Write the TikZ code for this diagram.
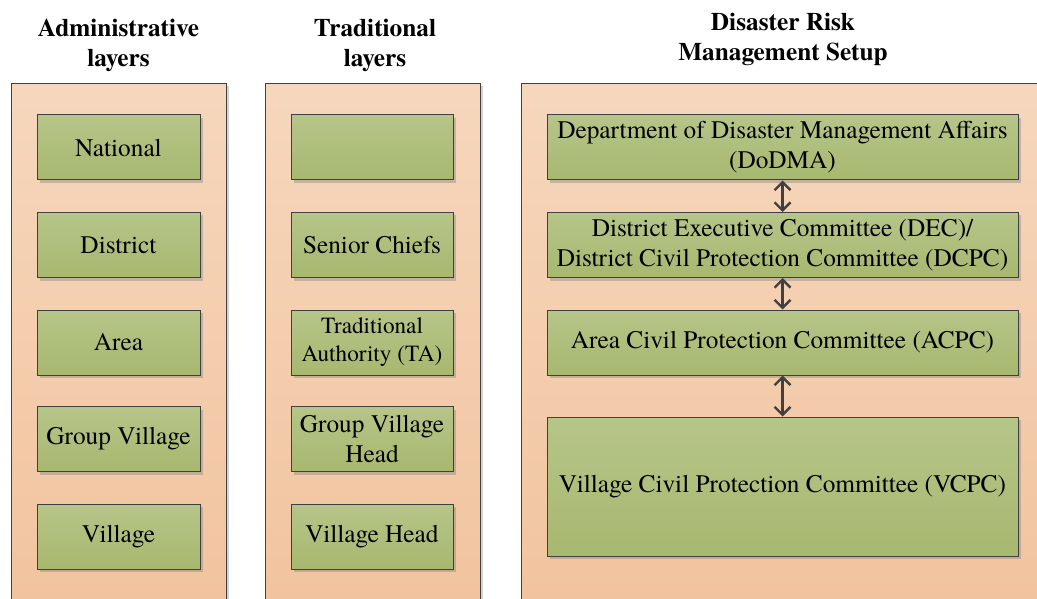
\documentclass[tikz,border=0pt]{standalone}
\usepackage{fontspec}
\setmainfont{TeX Gyre Termes}
\usetikzlibrary{shadows,arrows.meta}
\definecolor{panelTop}{HTML}{F6D7BD}
\definecolor{panelBot}{HTML}{F1C39D}
\definecolor{boxTop}{HTML}{B6C589}
\definecolor{boxBot}{HTML}{A7B86F}
\definecolor{edgecol}{HTML}{404040}
\begin{document}
\begin{tikzpicture}[x=1pt,y=-1pt,
  panel/.style={draw=edgecol, line width=0.9pt, top color=panelTop, bottom color=panelBot,
    anchor=north west, minimum height=540pt, inner sep=0pt,
    drop shadow={shadow xshift=3pt, shadow yshift=-3pt, fill=gray, opacity=0.35}},
  box/.style={draw=edgecol, line width=1pt, top color=boxTop, bottom color=boxBot,
    minimum height=65pt, inner sep=0pt, align=center,
    font=\fontsize{25.3}{30}\selectfont,
    drop shadow={shadow xshift=3pt, shadow yshift=-3pt, fill=gray, opacity=0.4}},
  smallbox/.style={box, font=\fontsize{23.2}{28}\selectfont},
  title/.style={align=center, font=\fontsize{25.3}{30}\selectfont\bfseries},
  arr/.style={draw=edgecol, line width=2.4pt,
    {Straight Barb[length=8pt,width=16pt]}-{Straight Barb[length=8pt,width=16pt]}}]
\useasboundingbox (0,0) rectangle (1037,599);
\clip (0,0) rectangle (1037,599);
% titles
\node[title] (t1) at (118.5,45) {Administrative\\layers};
\node[title] (t2) at (375,45) {Traditional\\layers};
\node[title] (t3) at (783,39) {Disaster Risk\\Management Setup};
% panels
\node[panel, minimum width=215pt] (p1) at (11,83) {};
\node[panel, minimum width=215pt] (p2) at (265,83) {};
\node[panel, minimum width=540pt] (p3) at (521,83) {};
% administrative
\node[box, minimum width=163pt] (a1) at (118.5,147.5) {National};
\node[box, minimum width=163pt] (a2) at (118.5,245) {District};
\node[box, minimum width=163pt] (a3) at (118.5,342.5) {Area};
\node[box, minimum width=163pt] (a4) at (118.5,439) {Group Village};
\node[box, minimum width=163pt] (a5) at (118.5,536.5) {Village};
% traditional
\node[box, minimum width=162pt] (b1) at (372,147.5) {};
\node[box, minimum width=162pt] (b2) at (372,245) {Senior Chiefs};
\node[smallbox, minimum width=162pt] (b3) at (372,342.5) {Traditional\\Authority (TA)};
\node[box, minimum width=162pt] (b4) at (372,439) {Group Village\\Head};
\node[box, minimum width=162pt] (b5) at (372,536.5) {Village Head};
% DRM setup
\node[box, minimum width=471pt] (c1) at (782.5,147.5) {Department of Disaster Management Affairs\\(DoDMA)};
\node[box, minimum width=471pt] (c2) at (782.5,245) {District Executive Committee (DEC)/\\District Civil Protection Committee (DCPC)};
\node[box, minimum width=471pt] (c3) at (782.5,342.5) {Area Civil Protection Committee (ACPC)};
\node[box, minimum width=471pt, minimum height=139pt] (c4) at (782.5,486.5) {Village Civil Protection Committee (VCPC)};
% arrows
\draw[arr] (c1.south) -- (c2.north);
\draw[arr] (c2.south) -- (c3.north);
\draw[arr] (c3.south) -- (c4.north);
\end{tikzpicture}
\end{document}
